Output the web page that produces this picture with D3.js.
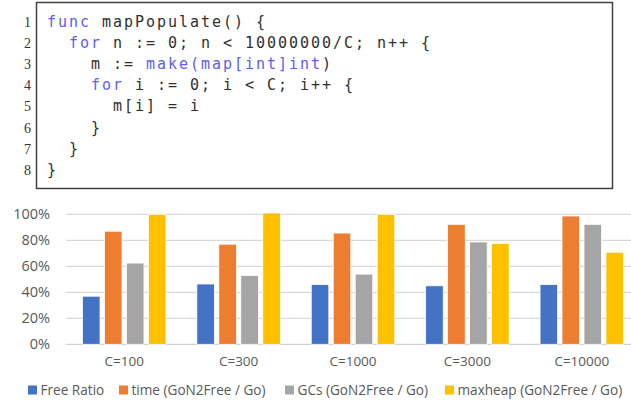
<!DOCTYPE html>
<html>
<head>
<meta charset="utf-8">
<script src="https://cdn.jsdelivr.net/npm/d3@7"></script>
<style>
body { margin: 0; background: #fff; }
svg { display: block; }
</style>
</head>
<body>
<div id="d3"></div>
<script>
// code listing: each line is a list of [text, isKeyword]
var codeLines = [
    [["func", 1], [" mapPopulate() {", 0]],
    [["  ", 0], ["for", 1], [" n := 0; n < 10000000/C; n++ {", 0]],
    [["    m := ", 0], ["make(map[int]int", 1], [")", 0]],
    [["    ", 0], ["for", 1], [" i := 0; i < C; i++ {", 0]],
    [["      m[i] = i", 0]],
    [["    }", 0]],
    [["  }", 0]],
    [["}", 0]]
];

var categories = ["C=100", "C=300", "C=1000", "C=3000", "C=10000"];
var seriesNames = ["Free Ratio", "time (GoN2Free / Go)", "GCs (GoN2Free / Go)", "maxheap (GoN2Free / Go)"];
var freeRatio = [0.37, 0.464, 0.46, 0.45, 0.46];
var timeRatio = [0.87, 0.77, 0.856, 0.923, 0.987];
var gcRatio = [0.625, 0.53, 0.54, 0.787, 0.923];
var heapRatio = [1.0, 1.01, 1.0, 0.774, 0.708];
var yTicks = [0, 0.2, 0.4, 0.6, 0.8, 1.0];
var colors = ["#4472C4", "#ED7D31", "#A5A5A5", "#FFC000"];

var allSeries = [freeRatio, timeRatio, gcRatio, heapRatio];

var width = 631, height = 402;
var svg = d3.select("#d3").append("svg").attr("width", width).attr("height", height);

// ---- code box ----
svg.append("rect").attr("x", 36.5).attr("y", 2.5).attr("width", 576).attr("height", 186)
    .attr("fill", "#fff").attr("stroke", "#404040").attr("stroke-width", 1.5);

var lineY = d3.scaleLinear().domain([0, 7]).range([26.5, 175]);

svg.append("g").selectAll("text").data(codeLines).enter().append("text")
    .attr("x", 31).attr("y", function(d, i) { return lineY(i); })
    .attr("text-anchor", "end")
    .attr("font-family", "'Liberation Serif', 'DejaVu Serif', serif")
    .attr("font-size", 14).attr("fill", "#333")
    .text(function(d, i) { return i + 1; });

var code = svg.append("g").selectAll("text").data(codeLines).enter().append("text")
    .attr("x", 47).attr("y", function(d, i) { return lineY(i); })
    .attr("font-family", "'DejaVu Sans Mono', monospace")
    .attr("font-size", 15).attr("letter-spacing", 1.97)
    .attr("xml:space", "preserve").style("white-space", "pre");

code.selectAll("tspan").data(function(d) { return d; }).enter().append("tspan")
    .attr("fill", function(d) { return d[1] ? "#5d5df2" : "#303030"; })
    .text(function(d) { return d[0]; });

// ---- bar chart ----
var x = d3.scaleBand().domain(categories).range([67, 639]).paddingInner(0.27).paddingOuter(0.135);
var xs = d3.scaleBand().domain(d3.range(seriesNames.length)).range([0, x.bandwidth()]).paddingInner(0.2);
var y = d3.scaleLinear().domain([0, 1]).range([344.3, 214.3]);

var grid = svg.append("g");
grid.selectAll("line").data(yTicks).enter().append("line")
    .attr("x1", 66).attr("x2", 631)
    .attr("y1", function(d) { return y(d); }).attr("y2", function(d) { return y(d); })
    .attr("stroke", function(d) { return d === 0 ? "#d0d0d0" : "#d9d9d9"; })
    .attr("stroke-width", 1.3);

var yAxis = d3.axisLeft(y).tickValues(yTicks).tickFormat(d3.format(".0%")).tickSize(0).tickPadding(0);
var yg = svg.append("g").attr("transform", "translate(50,0)").call(yAxis);
yg.select(".domain").remove();
yg.selectAll("text").attr("font-family", "'Open Sans', sans-serif").attr("font-size", 14.5).attr("fill", "#595959");

var groups = svg.append("g").selectAll("g").data(categories).enter().append("g")
    .attr("transform", function(d) { return "translate(" + x(d) + ",0)"; });

groups.selectAll("rect").data(function(d, ci) {
    return allSeries.map(function(s, si) { return { si: si, v: s[ci] }; });
}).enter().append("rect")
    .attr("x", function(d) { return xs(d.si); })
    .attr("width", xs.bandwidth())
    .attr("y", function(d) { return y(d.v); })
    .attr("height", function(d) { return y(0) - y(d.v); })
    .attr("fill", function(d) { return colors[d.si]; })
    .attr("stroke", "#fff").attr("stroke-width", 0.8);

var xAxis = d3.axisBottom(x).tickSize(0).tickPadding(0);
var xg = svg.append("g").attr("transform", "translate(0,356)").call(xAxis);
xg.select(".domain").remove();
xg.selectAll("text").attr("font-family", "'Open Sans', sans-serif").attr("font-size", 13.5).attr("fill", "#595959");

// ---- legend ----
var legendX = [28, 119, 285, 445];
var legend = svg.append("g").selectAll("g").data(seriesNames).enter().append("g")
    .attr("transform", function(d, i) { return "translate(" + legendX[i] + ",390)"; });
legend.append("rect").attr("x", 0).attr("y", -4.5).attr("width", 9).attr("height", 9)
    .attr("fill", function(d, i) { return colors[i]; });
legend.append("text").attr("x", 12.5).attr("y", 0).attr("dy", "0.35em")
    .attr("font-family", "'Open Sans', sans-serif").attr("font-size", 13.6).attr("fill", "#595959")
    .text(function(d) { return d; });
</script>
</body>
</html>
